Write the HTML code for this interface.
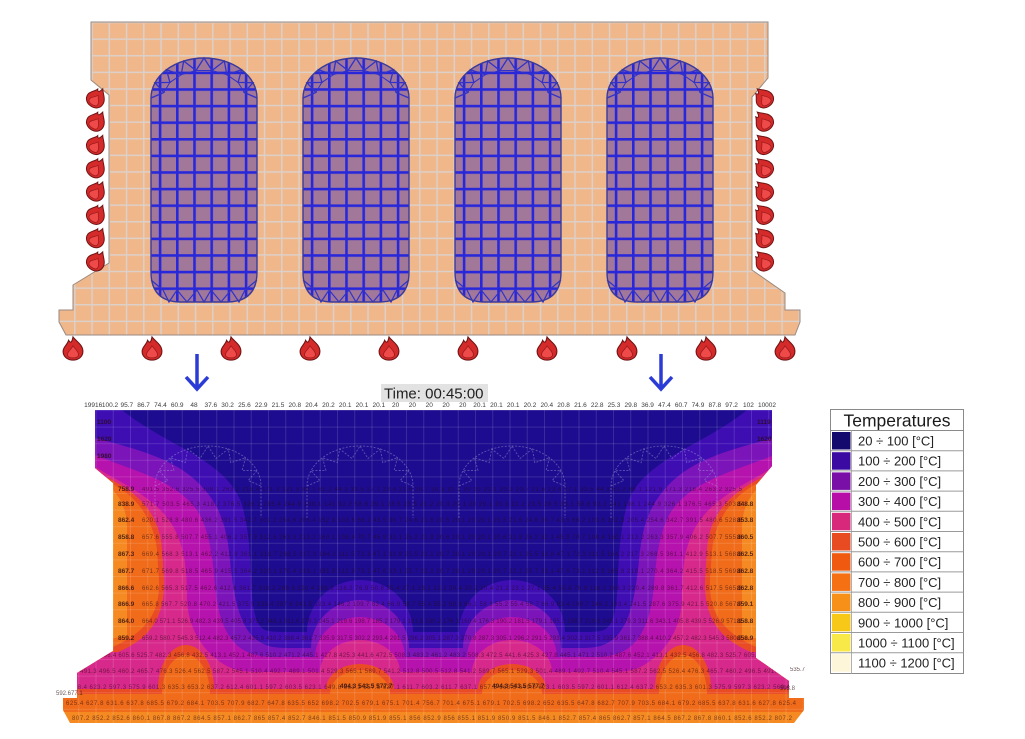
<!DOCTYPE html>
<html>
<head>
<meta charset="utf-8">
<style>
  html,body{margin:0;padding:0;background:#fff;}
  svg{display:block;}
  text{font-family:"Liberation Sans",sans-serif;}
</style>
</head>
<body>
<svg width="1025" height="739" viewBox="0 0 1025 739" xmlns="http://www.w3.org/2000/svg">
<defs>
  <pattern id="tan" patternUnits="userSpaceOnUse" x="91.3" y="21.8" width="17.25" height="16.6">
    <rect width="17.25" height="16.6" fill="#f0b78b"/>
    <rect width="17.25" height="1.5" fill="#dcd0c8"/>
    <rect width="1.5" height="16.6" fill="#dcd0c8"/>
  </pattern>
  <pattern id="blue" patternUnits="userSpaceOnUse" x="7.8" y="21.8" width="17.2" height="16.6">
    <rect width="17.2" height="16.6" fill="#a2789a"/>
    <rect width="17.2" height="2.6" fill="#2828da"/>
    <rect width="2.6" height="16.6" fill="#2828da"/>
  </pattern>
  <pattern id="hg" patternUnits="userSpaceOnUse" x="95.5" y="410" width="17.25" height="16.6">
    <rect width="17.25" height="1" fill="rgba(255,255,255,0.13)"/>
    <rect width="1" height="16.6" fill="rgba(255,255,255,0.13)"/>
  </pattern>
  <clipPath id="hc">
    <path d="M95,410 L772,410 L772,466 L756,485 L756,658 L789,681 L789,698 L804,698 L804,710 L794,723 L70,723 L63,710 L63,698 L77,698 L77,673 L113,651 L113,483 L95,468 Z"/>
  </clipPath>
  <g id="voidg">
    <path d="M0,98 A53,40 0 0 1 106,98 L106,272 Q106,302 76,302 L30,302 Q0,302 0,272 Z" fill="url(#blue)"/>
    <polyline points="0,98 12.8,92.5 4,82.7 18.9,82.4 15.5,69.7 30.2,74.7 32.7,61 45,70.5 53,58 61,70.5 73.3,61 75.8,74.7 90.5,69.7 87.1,82.4 102,82.7 93.2,92.5 106,98" fill="none" stroke="#3232c8" stroke-width="1.3"/>
    <polyline points="12.8,92.5 18.9,82.4 30.2,74.7 45,70.5 61,70.5 75.8,74.7 87.1,82.4 93.2,92.5" fill="none" stroke="#3232c8" stroke-width="1"/>
    <polyline points="0,280 12,290 18,302 26,290 36,302 46,290 53,302 60,290 70,302 80,290 88,302 94,290 106,280" fill="none" stroke="#3232c8" stroke-width="1.2"/>
    <path d="M0,98 A53,40 0 0 1 106,98 L106,272 Q106,302 76,302 L30,302 Q0,302 0,272 Z" fill="none" stroke="#3a3a9c" stroke-width="1.4"/>
  </g>
  <g id="harch">
    <polyline points="0,98 12.8,92.5 4,82.7 18.9,82.4 15.5,69.7 30.2,74.7 32.7,61 45,70.5 53,58 61,70.5 73.3,61 75.8,74.7 90.5,69.7 87.1,82.4 102,82.7 93.2,92.5 106,98" fill="none" stroke="rgba(170,170,220,0.45)" stroke-width="0.9" stroke-dasharray="2,1.5"/>
    <path d="M0,130 L0,98 A53,40 0 0 1 106,98 L106,130" fill="none" stroke="rgba(170,170,220,0.45)" stroke-width="0.9" stroke-dasharray="2,1.5"/>
  </g>
  <g id="fire">
    <path d="M0,-10 C3,-6 9,-3 9,3 C9,8 5,11 0,11 C-5,11 -9,8 -9,3 C-9,-1 -5,-3 -4,-7 C-2,-4 -1,-5 0,-10 Z" fill="#d42a2a" stroke="#6e1414" stroke-width="1"/>
    <path d="M0,-2 C2,1 5,3 5,6 C5,8 3,9 0,9 C-3,9 -5,8 -5,6 C-5,3 -2,2 0,-2 Z" fill="#ee4a4a" stroke="#9a1a1a" stroke-width="0.7"/>
  </g>
</defs>

<rect width="1025" height="739" fill="#fff"/>

<!-- ===== TOP SLAB ===== -->
<path d="M91,22 L768,22 L768,78 L752,97 L752,270 L785,293 L785,310 L800,310 L800,322 L795,335 L66,335 L59,322 L59,310 L73,310 L73,285 L109,263 L109,95 L91,80 Z" fill="url(#tan)" stroke="#9a8a80" stroke-width="1"/>
<use href="#voidg" x="151"/>
<use href="#voidg" x="303"/>
<use href="#voidg" x="455"/>
<use href="#voidg" x="607"/>

<!-- fire icons -->
<use href="#fire" transform="translate(97,97) rotate(35)"/>
<use href="#fire" transform="translate(97,120.3) rotate(35)"/>
<use href="#fire" transform="translate(97,143.6) rotate(35)"/>
<use href="#fire" transform="translate(97,166.9) rotate(35)"/>
<use href="#fire" transform="translate(97,190.2) rotate(35)"/>
<use href="#fire" transform="translate(97,213.5) rotate(35)"/>
<use href="#fire" transform="translate(97,236.8) rotate(35)"/>
<use href="#fire" transform="translate(97,260.1) rotate(35)"/>
<use href="#fire" transform="translate(763,97) rotate(-35)"/>
<use href="#fire" transform="translate(763,120.3) rotate(-35)"/>
<use href="#fire" transform="translate(763,143.6) rotate(-35)"/>
<use href="#fire" transform="translate(763,166.9) rotate(-35)"/>
<use href="#fire" transform="translate(763,190.2) rotate(-35)"/>
<use href="#fire" transform="translate(763,213.5) rotate(-35)"/>
<use href="#fire" transform="translate(763,236.8) rotate(-35)"/>
<use href="#fire" transform="translate(763,260.1) rotate(-35)"/>
<use href="#fire" transform="translate(73,348) scale(1.1)"/>
<use href="#fire" transform="translate(152,348) scale(1.1)"/>
<use href="#fire" transform="translate(231,348) scale(1.1)"/>
<use href="#fire" transform="translate(310,348) scale(1.1)"/>
<use href="#fire" transform="translate(389,348) scale(1.1)"/>
<use href="#fire" transform="translate(468,348) scale(1.1)"/>
<use href="#fire" transform="translate(547,348) scale(1.1)"/>
<use href="#fire" transform="translate(627,348) scale(1.1)"/>
<use href="#fire" transform="translate(706,348) scale(1.1)"/>
<use href="#fire" transform="translate(785,348) scale(1.1)"/>

<!-- arrows -->
<g stroke="#2b3cd6" stroke-width="3.5" fill="none" stroke-linejoin="miter">
  <path d="M197,354 L197,388 M186,377 L197,389 L208,377"/>
  <path d="M661,354 L661,388 M650,377 L661,389 L672,377"/>
</g>

<!-- ===== HEATMAP ===== -->
<g clip-path="url(#hc)">
  <rect x="40" y="400" width="790" height="330" fill="#f58a22"/>
  <path fill="#f06c1a" d="M40,400 L40,490 L113,490 C122,500 127,512 127,528 L127,636 L40,650 L40,712 L829,712 L829,650 L742,636 L742,528 C742,512 747,500 756,490 L829,490 L829,400 Z"/>
  <!-- <600 -->
  <path fill="#e94c24" d="M40,400 L40,484 L113,484 C133,495 153,515 157,550 L159,580 C160,610 150,630 113,647 L40,647 L40,694 L162,694 A24,39 0 0 1 210,694 L330,694 A30,24 0 0 1 390,694 L482,694 A30,24 0 0 1 542,694 L659,694 A24,39 0 0 1 707,694 L829,694 L829,647 L756,647 C719,630 709,610 710,580 L712,550 C716,515 736,495 756,484 L829,484 L829,400 Z"/>
  <!-- <500 -->
  <path fill="#d7298b" d="M40,400 L40,478 L108,478 C140,494 160,515 162,550 L164,580 C165,615 152,638 118,652 L40,652 L40,689 L158,689 A28,44 0 0 1 214,689 L326,689 A34,25 0 0 1 394,689 L478,689 A34,25 0 0 1 546,689 L655,689 A28,44 0 0 1 711,689 L829,689 L829,652 L751,652 C717,638 704,615 705,580 L707,550 C709,515 729,494 761,478 L829,478 L829,400 Z"/>
  <!-- <400 -->
  <path fill="#b612ad" d="M40,400 L40,468 L97,468 C125,485 160,500 175,530 C185,550 187,570 187,600 C188,625 200,650 225,665 C235,671 245,672 260,672 L320,672 A40,32 0 0 1 400,672 L472,672 A40,32 0 0 1 552,672 L609,672 C624,672 634,671 644,665 C669,650 681,625 682,600 C682,570 684,550 694,530 C709,500 744,485 772,468 L829,468 L829,400 Z"/>
  <!-- <300 -->
  <path fill="#7b14b9" d="M40,400 L40,455 L95,455 C130,470 180,480 200,515 C210,535 213,560 215,585 C218,620 228,645 250,653 C258,656 265,657 275,657 L315,657 A45,40 0 0 1 405,657 L467,657 A45,40 0 0 1 557,657 L594,657 C604,657 611,656 619,653 C641,645 651,620 654,585 C656,560 659,535 669,515 C689,480 739,470 774,455 L829,455 L829,400 Z"/>
  <!-- <200 -->
  <path fill="#3e0eb3" d="M40,400 L40,438 L95,438 C140,450 180,460 205,490 C222,510 227,530 230,560 C234,600 240,630 260,642 C268,647 275,648 290,648 L311,648 A49,48 0 0 1 409,648 L463,648 A49,48 0 0 1 561,648 L579,648 C594,648 601,647 609,642 C629,630 635,600 639,560 C642,530 647,510 664,490 C689,460 729,450 774,438 L829,438 L829,400 Z"/>
  <!-- <100 -->
  <path fill="#1d0c8f" d="M40,400 L118,400 L122,410 C140,425 165,438 190,452 C215,467 235,482 242,505 C248,525 250,550 251,575 C252,605 254,625 265,630 C270,632 278,632 290,632 L307,632 A53,52 0 0 1 413,632 L459,632 A53,52 0 0 1 565,632 L579,632 C591,632 599,632 604,630 C615,625 617,605 618,575 C619,550 621,525 627,505 C634,482 654,467 679,452 C704,438 729,425 747,410 L751,400 Z"/>
  <rect x="40" y="400" width="790" height="330" fill="url(#hg)"/>

  <use href="#harch" x="155" y="388"/>
  <use href="#harch" x="307" y="388"/>
  <use href="#harch" x="459" y="388"/>
  <use href="#harch" x="611" y="388"/>

  <!-- row numbers -->
  <g font-size="6" fill="#2a0a14" opacity="0.6">
    <text x="142" y="491" textLength="600">491.5 352.6 325.5 308.1 263.2 218.4 171.3 121.9 88.1 61.2 44.3 33.5 27.1 23.4 21.6 20.7 20.3 20.1 20 20 20.1 20.3 20.7 21.6 23.4 27.1 33.5 44.3 61.2 88.1 121.9 171.3 218.4 263.2 325.5</text>
    <text x="142" y="506" textLength="600">571.7 503.5 465.3 418.2 376.5 326.1 285.4 244.9 198.1 141 92.2 58.6 39.1 28.5 23.5 21.2 20.3 20.1 20 20.1 20.3 21.2 23.5 28.5 39.1 58.6 92.2 141 198.1 244.9 326.1 376.5 465.3 503.5</text>
    <text x="142" y="522" textLength="600">620.1 528.8 480.6 436.2 391.5 342.7 301.2 254.6 205.4 152.9 103.6 66.2 43.5 30.7 24.6 21.6 20.5 20.1 20 20.1 20.5 21.6 24.6 30.7 43.5 66.2 103.6 152.9 205.4 254.6 342.7 391.5 480.6 528.8</text>
    <text x="142" y="539" textLength="600">657.6 555.8 507.7 455.1 406.2 357.9 312.5 263.3 213.2 160.1 108.4 70.7 45.9 32.1 25.2 21.9 20.6 20.1 20 20.1 20.6 21.9 25.2 32.1 45.9 70.7 108.4 160.1 213.2 263.3 357.9 406.2 507.7 555.8</text>
    <text x="142" y="556" textLength="600">669.4 568.3 513.1 462.2 412.9 361.1 318.7 268.5 217.3 164.2 111.5 72.3 47.1 32.8 25.5 22.1 20.7 20.1 20 20.1 20.7 22.1 25.5 32.8 47.1 72.3 111.5 164.2 217.3 268.5 361.1 412.9 513.1 568.3</text>
    <text x="142" y="573" textLength="600">671.7 569.8 518.5 465.9 415.5 364.2 320.1 270.4 219.1 165.8 112.9 73.1 47.6 33.1 25.7 22.2 20.7 20.1 20 20.1 20.7 22.2 25.7 33.1 47.6 73.1 112.9 165.8 219.1 270.4 364.2 415.5 518.5 569.8</text>
    <text x="142" y="590" textLength="600">662.6 565.3 517.5 462.6 412.6 361.7 318.2 269.8 220.4 168.3 116.2 76.9 50.8 35.4 27.1 23.1 21.2 20.4 20.2 20.4 21.2 23.1 27.1 35.4 50.8 76.9 116.2 168.3 220.4 269.8 361.7 412.6 517.5 565.3</text>
    <text x="142" y="606" textLength="600">665.8 567.7 520.8 470.2 421.5 375.9 333.4 287.6 241.5 193.4 146.2 109.7 83.4 66.9 58.7 55.4 55.2 58.3 66.1 58.3 55.2 55.4 58.7 66.9 83.4 109.7 146.2 193.4 241.5 287.6 375.9 421.5 520.8 567.7</text>
    <text x="142" y="623" textLength="600">664.0 571.1 526.9 482.3 439.5 405.8 375.2 343.1 311.6 279.3 245.1 219.6 198.7 185.2 179.1 181.5 190.2 176.3 160.4 176.3 190.2 181.5 179.1 185.2 198.7 219.6 245.1 279.3 311.6 343.1 405.8 439.5 526.9 571.1</text>
    <text x="142" y="640" textLength="600">659.2 580.7 545.3 512.4 482.3 457.2 435.9 410.2 388.4 361.7 335.9 317.5 302.2 293.4 291.5 296.2 305.1 287.3 270.8 287.3 305.1 296.2 291.5 293.4 302.2 317.5 335.9 361.7 388.4 410.2 457.2 482.3 545.3 580.7</text>
    <text x="100" y="657" textLength="660">466.4 605.6 525.7 482.3 456.8 432.5 413.1 452.1 487.6 510.2 471.2 445.1 427.8 425.3 441.6 472.5 508.3 483.2 461.2 483.2 508.3 472.5 441.6 425.3 427.8 445.1 471.2 510.2 487.6 452.1 413.1 432.5 456.8 482.3 525.7 605.6</text>
    <text x="80" y="673" textLength="700">491.3 496.5 460.2 465.7 476.3 526.4 562.5 587.2 545.1 510.4 492.7 489.1 501.4 529.3 565.1 589.7 541.2 512.8 500.5 512.8 541.2 589.7 565.1 529.3 501.4 489.1 492.7 510.4 545.1 587.2 562.5 526.4 476.3 465.7 460.2 496.5 491.3</text>
    <text x="70" y="689" textLength="720">568.4 623.2 597.3 575.9 601.3 635.3 653.2 637.2 612.4 601.1 597.2 603.5 623.1 649.8 663.3 657.5 637.1 611.7 603.2 611.7 637.1 657.5 663.3 649.8 623.1 603.5 597.2 601.1 612.4 637.2 653.2 635.3 601.3 575.9 597.3 623.2 568.4</text>
    <text x="66" y="705" textLength="730">625.4 627.8 631.6 637.8 685.5 679.2 684.1 703.5 707.9 682.7 647.8 635.5 652 698.2 702.5 679.1 675.1 701.4 756.7 701.4 675.1 679.1 702.5 698.2 652 635.5 647.8 682.7 707.9 703.5 684.1 679.2 685.5 637.8 631.6 627.8 625.4</text>
    <text x="72" y="720" textLength="720">807.2 852.2 852.6 860.1 867.8 867.2 864.5 857.1 862.7 865 857.4 852.7 846.1 851.5 850.9 851.9 855.1 856 852.9 856 855.1 851.9 850.9 851.5 846.1 852.7 857.4 865 862.7 857.1 864.5 867.2 867.8 860.1 852.6 852.2 807.2</text>
  </g>
  <g font-size="6.5" font-weight="bold" fill="#2a0c10" opacity="0.8">
    <text x="97" y="424">1100</text>
    <text x="97" y="441">1620</text>
    <text x="97" y="458">1980</text>
    <text x="118" y="491">758.9</text>
    <text x="118" y="506">838.9</text>
    <text x="118" y="522">862.4</text>
    <text x="118" y="539">858.8</text>
    <text x="118" y="556">867.3</text>
    <text x="118" y="573">867.7</text>
    <text x="118" y="590">866.6</text>
    <text x="118" y="606">866.9</text>
    <text x="118" y="623">864.0</text>
    <text x="118" y="640">859.2</text>
    <text x="757" y="424">1119</text>
    <text x="757" y="441">1620</text>
    <text x="757" y="491">847</text>
    <text x="737" y="506">848.8</text>
    <text x="737" y="522">853.8</text>
    <text x="737" y="539">860.5</text>
    <text x="737" y="556">862.5</text>
    <text x="737" y="573">862.8</text>
    <text x="737" y="590">862.8</text>
    <text x="737" y="606">859.1</text>
    <text x="737" y="623">858.8</text>
    <text x="737" y="640">858.9</text>
    <text x="340" y="688">494.3 543.5 577.7</text>
    <text x="492" y="688">494.3 543.5 577.7</text>
  </g>
</g>
<!-- outside labels near flanges -->
<g font-size="6" fill="#2a0c10" opacity="0.7">
  <text x="56" y="695">592.677.1</text>
  <text x="780" y="690">593.8</text>
  <text x="790" y="671">535.7</text>
</g>

<!-- top node values -->
<g font-size="6.5" fill="#3a3a3a" text-anchor="middle">
  <text x="93.2" y="407">19916</text><text x="110" y="407">100.2</text><text x="126.8" y="407">95.7</text>
  <text x="143.6" y="407">86.7</text><text x="160.4" y="407">74.4</text><text x="177.2" y="407">60.9</text>
  <text x="194" y="407">48</text><text x="210.8" y="407">37.6</text><text x="227.6" y="407">30.2</text>
  <text x="244.4" y="407">25.6</text><text x="261.2" y="407">22.9</text><text x="278" y="407">21.5</text>
  <text x="294.8" y="407">20.8</text><text x="311.6" y="407">20.4</text><text x="328.4" y="407">20.2</text>
  <text x="345.2" y="407">20.1</text><text x="362" y="407">20.1</text><text x="378.8" y="407">20.1</text>
  <text x="395.6" y="407">20</text><text x="412.4" y="407">20</text><text x="429.2" y="407">20</text>
  <text x="446" y="407">20</text><text x="462.8" y="407">20</text><text x="479.6" y="407">20.1</text>
  <text x="496.4" y="407">20.1</text><text x="513.2" y="407">20.1</text><text x="530" y="407">20.2</text>
  <text x="546.8" y="407">20.4</text><text x="563.6" y="407">20.8</text><text x="580.4" y="407">21.6</text>
  <text x="597.2" y="407">22.8</text><text x="614" y="407">25.3</text><text x="630.8" y="407">29.8</text>
  <text x="647.6" y="407">36.9</text><text x="664.4" y="407">47.4</text><text x="681.2" y="407">60.7</text>
  <text x="698" y="407">74.9</text><text x="714.8" y="407">87.8</text><text x="731.6" y="407">97.2</text>
  <text x="748.4" y="407">102</text><text x="767" y="407">10002</text>
</g>

<!-- time label -->
<rect x="381" y="384" width="107" height="18" fill="#e2e2e2"/>
<text x="384" y="398.5" font-size="15" fill="#1e1e1e">Time: 00:45:00</text>

<!-- ===== LEGEND ===== -->
<g>
  <rect x="830.5" y="409.5" width="133" height="264" fill="#fff" stroke="#8a8a8a" stroke-width="1"/>
  <text x="897" y="426.5" font-size="17.5" fill="#1a1a1a" text-anchor="middle">Temperatures</text>
  <line x1="830.5" y1="430.5" x2="963.5" y2="430.5" stroke="#8a8a8a"/>
  <line x1="851.5" y1="430.5" x2="851.5" y2="673.5" stroke="#b0b0b0"/>
  <g stroke="#9a9a9a" stroke-width="1">
    <line x1="830.5" y1="450.7" x2="963.5" y2="450.7"/>
    <line x1="830.5" y1="470.9" x2="963.5" y2="470.9"/>
    <line x1="830.5" y1="491.1" x2="963.5" y2="491.1"/>
    <line x1="830.5" y1="511.3" x2="963.5" y2="511.3"/>
    <line x1="830.5" y1="531.5" x2="963.5" y2="531.5"/>
    <line x1="830.5" y1="551.7" x2="963.5" y2="551.7"/>
    <line x1="830.5" y1="571.9" x2="963.5" y2="571.9"/>
    <line x1="830.5" y1="592.1" x2="963.5" y2="592.1"/>
    <line x1="830.5" y1="612.3" x2="963.5" y2="612.3"/>
    <line x1="830.5" y1="632.5" x2="963.5" y2="632.5"/>
    <line x1="830.5" y1="652.7" x2="963.5" y2="652.7"/>
  </g>
  <rect x="832" y="432" width="18.5" height="17.5" fill="#140a6e"/>
  <rect x="832" y="452.2" width="18.5" height="17.5" fill="#3a0aa2"/>
  <rect x="832" y="472.4" width="18.5" height="17.5" fill="#7a0fa8"/>
  <rect x="832" y="492.6" width="18.5" height="17.5" fill="#b80ea8"/>
  <rect x="832" y="512.8" width="18.5" height="17.5" fill="#d8287c"/>
  <rect x="832" y="533" width="18.5" height="17.5" fill="#e84a22"/>
  <rect x="832" y="553.2" width="18.5" height="17.5" fill="#f05a10"/>
  <rect x="832" y="573.4" width="18.5" height="17.5" fill="#f57012"/>
  <rect x="832" y="593.6" width="18.5" height="17.5" fill="#f79018"/>
  <rect x="832" y="613.8" width="18.5" height="17.5" fill="#f8c818"/>
  <rect x="832" y="634" width="18.5" height="17.5" fill="#f8e848"/>
  <rect x="832" y="654.2" width="18.5" height="17.5" fill="#fdf6d8"/>
  <g font-size="13" fill="#222">
    <text x="858" y="445.5">20 ÷ 100 [°C]</text>
    <text x="858" y="465.7">100 ÷ 200 [°C]</text>
    <text x="858" y="485.9">200 ÷ 300 [°C]</text>
    <text x="858" y="506.1">300 ÷ 400 [°C]</text>
    <text x="858" y="526.3">400 ÷ 500 [°C]</text>
    <text x="858" y="546.5">500 ÷ 600 [°C]</text>
    <text x="858" y="566.7">600 ÷ 700 [°C]</text>
    <text x="858" y="586.9">700 ÷ 800 [°C]</text>
    <text x="858" y="607.1">800 ÷ 900 [°C]</text>
    <text x="858" y="627.3">900 ÷ 1000 [°C]</text>
    <text x="858" y="647.5">1000 ÷ 1100 [°C]</text>
    <text x="858" y="667.7">1100 ÷ 1200 [°C]</text>
  </g>
</g>
</svg>
</body>
</html>
